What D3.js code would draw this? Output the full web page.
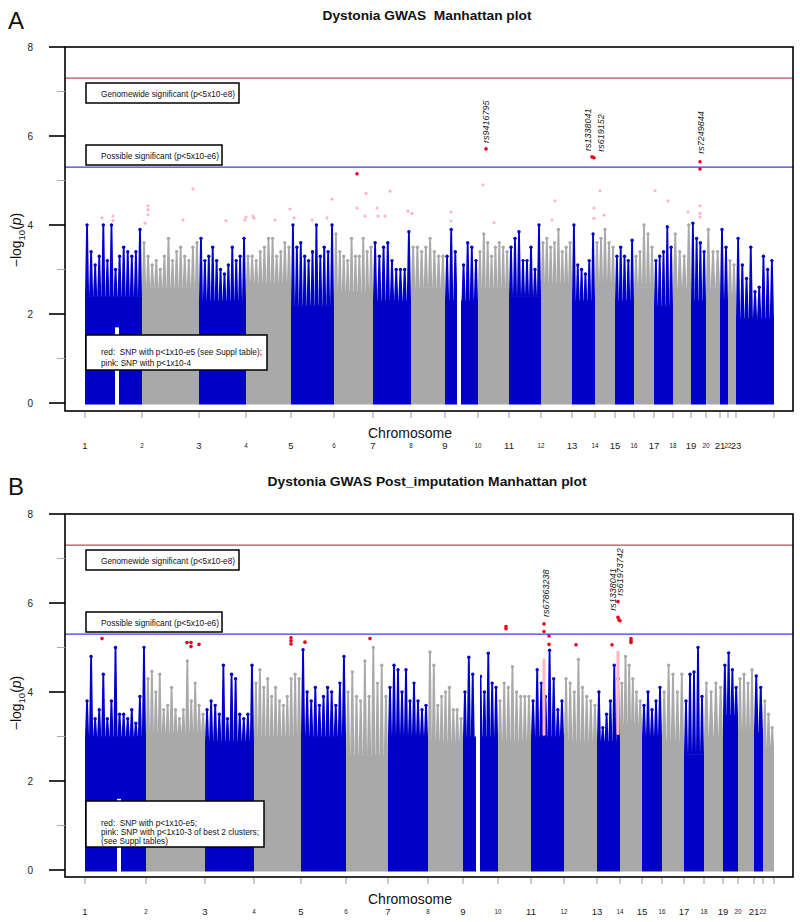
<!DOCTYPE html>
<html><head><meta charset="utf-8">
<script src="https://cdn.jsdelivr.net/npm/d3@7/dist/d3.min.js"></script>
<style>body{margin:0;background:#fff} svg{display:block;font-family:"Liberation Sans",Arial,sans-serif}</style>
</head><body><svg id="c" width="800" height="922"></svg>
<script>
// ---------------- DATA ----------------
const chromLabelsA = ["1","2","3","4","5","6","7","8","9","10","11","12","13","14","15","16","17","18","19","20","21","22","23"];
const chromLabelsB = ["1","2","3","4","5","6","7","8","9","10","11","12","13","14","15","16","17","18","19","20","21","22"];
// relative chromosome extents (number of SNPs, arbitrary units)
const chromSizeA = [57,57,47,45,43,39,38,34,33,31,32,31,23,20,19,20,19,18,15,14,8,8,38];
const chromSizeB = [61,59,49,47,45,42,40,35,35,33,33,33,23,22,20,22,20,19,15,16,9,11];
// -log10(p) level below which SNPs form a solid mass, per chromosome
const coreA = [2.4,2.6,2.3,2.7,2.2,2.5,2.3,2.6,2.3,2.6,2.4,2.7,2.3,2.7,2.3,2.6,2.2,2.6,2.3,2.6,2.3,2.4,1.9];
const coreB = [3.0,3.1,2.9,3.0,3.0,2.6,3.0,2.9,3.0,2.9,3.0,2.9,2.9,3.3,3.0,2.9,2.6,3.0,3.5,3.1,3.1,2.8];
// top -log10(p) of SNP stacks along each chromosome (evenly spaced windows)
const topsA = [
 [4.0,3.4,3.1,3.3,4.0,3.2,4.0,3.0,3.3,3.5,3.4,3.3,3.4,3.9],
 [3.6,3.3,3.1,3.2,3.0,3.3,3.7,3.2,3.4,3.5,3.3,3.2,3.5,3.6],
 [3.7,3.2,3.3,3.5,3.2,3.0,2.9,3.1,3.5,3.2,3.3,3.7],
 [3.3,3.3,3.2,3.4,3.5,3.7,3.7,3.3,3.4,3.6,3.5],
 [4.0,3.5,3.6,3.3,3.2,3.4,4.0,3.3,3.5,3.4,4.0],
 [3.8,3.4,3.3,3.2,3.7,3.3,3.3,3.7,3.4,3.5],
 [3.6,3.3,3.5,3.6,3.2,3.0,3.0,3.0,3.85],
 [3.5,3.5,3.4,3.5,3.7,3.4,3.3,3.3],
 [3.3,3.9,3.4,0,3.1,3.6,3.5,3.2],
 [3.4,3.8,3.6,3.3,3.5,3.6,3.5,3.4],
 [3.5,3.7,3.85,3.2,3.2,3.5,3.0,4.0],
 [3.6,3.7,3.5,3.6,3.9,3.4,3.5,3.6],
 [4.0,3.1,3.0,2.9,3.2,3.8],
 [3.6,3.7,3.9,3.6,3.5],
 [3.3,3.5,3.3,3.2,3.66],
 [3.3,3.4,4.0,3.8,3.5],
 [3.2,3.3,3.4,3.96,3.5],
 [3.8,3.4,3.3,4.0],
 [4.04,3.7,3.6,3.4],
 [3.9,3.4,3.4],
 [3.9,3.5],
 [3.2,3.1],
 [3.7,3.1,2.8,3.5,2.5,2.6,3.3,3.0,3.2]
];
const topsB = [
 [3.8,4.8,3.4,3.6,4.4,3.4,3.8,5.0,3.5,3.5,3.4,3.6,3.3,3.9,5.0],
 [4.3,4.46,4.0,4.4,3.6,3.7,4.1,3.6,3.4,3.6,4.7,3.8,4.2,3.7,3.5],
 [3.6,3.8,3.7,3.5,4.6,3.4,4.4,4.3,3.5,3.4,3.5,4.6],
 [4.2,4.5,4.1,4.3,3.9,4.1,3.8,3.7,3.9,4.3,4.4,4.3],
 [4.95,4.0,3.8,4.1,3.7,3.9,4.1,4.0,3.7,4.2,4.8],
 [4.0,4.45,3.9,3.8,4.7,3.9,5.0,4.2,4.6,3.9],
 [4.1,4.6,4.5,4.0,4.5,3.8,4.2,3.8,3.6,3.7],
 [4.9,4.6,3.7,3.9,4.0,4.1,3.6,3.6,3.4],
 [4.0,4.78,4.4,0,4.35,4.0,4.87,4.2,4.1],
 [3.8,4.2,4.1,4.57,4.0,3.9,3.9,3.9],
 [3.8,4.5,4.2,3.9,4.94,4.3,3.6,3.8],
 [4.3,4.2,4.0,4.73,4.1,3.9,3.8,3.7],
 [4.0,3.2,3.5,3.8,4.6,4.3],
 [4.2,4.8,4.6,4.3,4.0,3.8],
 [3.7,4.0,3.6,3.8,4.1],
 [4.0,4.6,4.4,4.0,4.4],
 [3.8,4.4,4.45,5.0,3.9],
 [4.2,4.0,4.2,4.1],
 [4.6,4.88,4.5,4.1],
 [4.3,4.4,4.2,4.5],
 [4.36,4.1],
 [3.8,3.5,3.2]
];
// centromere gaps: [chrom index, start offset, end offset, top -log10(p) of empty region]
const gapsA = [[0,30,34,1.7],[8,12,16,5]];
const gapsB = [[0,32,36,1.6],[8,13,17,5.2]];
// highlighted SNPs: [chrom index, offset within chromosome, -log10(p)]
const redA = [[9,8,5.71],[12,20,5.53],[12,22,5.51],[18,9,5.42],[18,9,5.26],[5,23,5.15]];
const pinkA = [[0,17,4.16],[0,28,4.2],[0,28,4.1],[1,6,4.43],[1,6,4.34],[1,6,4.23],[1,3,4.04],[1,41,4.11],[1,51,4.81],
 [2,27,4.1],[2,46,4.11],[3,0,4.18],[3,7,4.2],[3,8,4.15],[3,29,4.11],[3,44,4.36],[4,3,4.16],[4,21,4.11],[4,36,4.16],[4,41,4.58],
 [5,23,4.38],[5,31,4.2],[5,32,4.71],[6,4,4.38],[6,5,4.2],[6,12,4.2],[6,17,4.76],[6,35,4.31],[7,1,4.26],[8,6,4.29],[8,6,4.09],
 [9,5,4.9],[9,16,4.05],[11,11,4.11],[11,14,4.54],[12,22,4.38],[12,22,4.15],[13,5,4.77],[13,9,4.22],[16,1,4.77],[16,14,4.54],
 [17,15,4.29],[18,9,4.43],[18,9,4.26],[18,9,4.18]];
const redB = [[0,17,5.2],[0,46,5.6],[1,41,5.11],[1,45,5.39],[1,45,5.11],[1,45,5.02],[1,53,5.07],[3,37,5.22],[3,37,5.15],[3,37,5.08],
 [4,4,5.12],[5,24,5.2],[9,8,5.47],[9,8,5.42],[10,13,5.53],[10,13,5.36],[10,18,5.26],[10,18,5.07],[11,12,5.06],[12,15,5.06],
 [12,21,6.03],[12,21,5.68],[12,22,5.62],[12,23,5.6],[13,11,5.2],[13,11,5.15],[13,11,5.11]];
// pink clusters: [chrom index, offset, low, high]
const pinkB = [[10,13,3.05,4.72],[12,21,3.07,4.9]];
// annotated SNPs: [chrom index, offset, -log10(p), name]
const labelsA = [[9,8,5.71,"rs9416795"],[12,20,5.53,"rs1338041"],[12,22,5.51,"rs619152"],[18,9,5.42,"rs7249844"]];
const labelsB = [[10,13,5.53,"rs67863238"],[12,21,6.03,"rs1338041"],[12,21,6.03,"rs61973742"]];
const yTicks = [0,2,4,6,8];
const yMinor = [1,3,5,7];
const genomeWide = 7.3, suggestive = 5.3;

// ---------------- DRAW ----------------
const BLUE="#0000c8", GRAY="#a9a9a9", RED="#e8001c", PINK="#ffb6c1";
const svg=d3.select("#c");

function panel(cfg){
  const g=svg.append("g");
  const starts=[]; let acc=0; cfg.sizes.forEach(s=>{starts.push(acc); acc+=s;});
  const x=d3.scaleLinear().domain([0,acc]).range([85,774]);
  const y=d3.scaleLinear().domain([0,8]).range([cfg.y0,cfg.y8]);
  const col=i=> i%2===0?BLUE:GRAY;
  const px=(c,o)=>x(starts[c]+o);
  // solid mass
  cfg.sizes.forEach((s,i)=>{
    g.append("rect").attr("x",px(i,0)).attr("width",px(i,s)-px(i,0)).attr("y",y(cfg.core[i]))
     .attr("height",y(0)-y(cfg.core[i])+1.5).attr("fill",col(i));
  });
  // tapering SNP stacks above the solid mass
  cfg.tops.forEach((arr,i)=>{
    const w=cfg.sizes[i]/arr.length;
    arr.forEach((v,j)=>{
      if(v<=cfg.core[i]) return;
      const x0=px(i,j*w), x1=px(i,(j+1)*w), cx=(x0+x1)/2, yb=y(cfg.core[i])+0.5, yt=y(v);
      const p=d3.path();
      p.moveTo(x0,yb); p.lineTo(x1,yb);
      p.lineTo(cx+0.9,yt); p.lineTo(cx-0.9,yt); p.closePath();
      g.append("path").attr("d",p.toString()).attr("fill",col(i));
      g.append("circle").attr("cx",cx).attr("cy",yt).attr("r",1.7).attr("fill",col(i));
    });
  });
  cfg.gaps.forEach(d=>{
    g.append("rect").attr("x",px(d[0],d[1])).attr("width",px(d[0],d[2])-px(d[0],d[1]))
     .attr("y",y(d[3])).attr("height",y(0)-y(d[3])+2).attr("fill","#fff");
  });
  // pink
  (cfg.pinkPts||[]).forEach(d=>g.append("circle").attr("cx",px(d[0],d[1])).attr("cy",y(d[2])).attr("r",1.6).attr("fill",PINK));
  (cfg.pinkSeg||[]).forEach(d=>g.append("line").attr("x1",px(d[0],d[1])).attr("x2",px(d[0],d[1]))
     .attr("y1",y(d[2])).attr("y2",y(d[3])).attr("stroke",PINK).attr("stroke-width",3).attr("stroke-linecap","round"));
  cfg.red.forEach(d=>g.append("circle").attr("cx",px(d[0],d[1])).attr("cy",y(d[2])).attr("r",1.8).attr("fill",RED));
  // thresholds
  g.append("line").attr("x1",65).attr("x2",793).attr("y1",y(genomeWide)).attr("y2",y(genomeWide)).attr("stroke","#b05454").attr("stroke-width",1.2);
  g.append("line").attr("x1",65).attr("x2",793).attr("y1",y(suggestive)).attr("y2",y(suggestive)).attr("stroke","#3a3ae6").attr("stroke-width",1.2);
  // rs labels
  cfg.labels.forEach((d,k)=>{
    const off=cfg.labelOff[k];
    g.append("text").attr("transform",`translate(${px(d[0],d[1])+off[0]},${y(d[2])+off[1]}) rotate(-90)`)
     .attr("font-size",9).attr("font-style","italic").attr("fill","#222").text(d[3]);
  });
  // legend boxes
  const box=(bx,by,bw,bh,lines,fs,ty,tl)=>{
    g.append("rect").attr("x",bx).attr("y",by).attr("width",bw).attr("height",bh).attr("fill","#fff").attr("stroke","#000").attr("stroke-width",1.5);
    lines.forEach((t,k)=>g.append("text").attr("x",bx+15).attr("y",ty[k]).attr("font-size",fs).attr("fill","#111")
      .attr("textLength",tl[k]).attr("lengthAdjust","spacingAndGlyphs").attr("xml:space","preserve").text(t));
  };
  const Y=cfg.y8;
  box(86,Y+36,153,20,["Genomewide significant (p<5x10-e8)"],8.8,[Y+49.5],[134]);
  box(86,Y+98,136,20,["Possible significant (p<5x10-e6)"],8.8,[Y+111.5],[118]);
  box(86,cfg.legY,cfg.legW,cfg.legH,cfg.legLines,8.8,cfg.legTY,cfg.legTL);
  // frame
  g.append("rect").attr("x",65).attr("y",Y).attr("width",728).attr("height",cfg.boxB-Y).attr("fill","none").attr("stroke","#000").attr("stroke-width",1.6);
  // y axis
  yTicks.forEach(t=>{
    g.append("line").attr("x1",49).attr("x2",65).attr("y1",y(t)).attr("y2",y(t)).attr("stroke","#000").attr("stroke-width",1.6);
    g.append("text").attr("x",33).attr("y",y(t)+3.5).attr("text-anchor","end").attr("font-size",10).attr("fill","#222").text(t);
  });
  yMinor.forEach(t=>g.append("line").attr("x1",57).attr("x2",65).attr("y1",y(t)).attr("y2",y(t)).attr("stroke","#aaa").attr("stroke-width",1));
  g.append("text").attr("transform",`translate(21,${cfg.ylabY}) rotate(-90)`).attr("text-anchor","middle").attr("font-size",14).attr("fill","#111")
   .call(t=>{t.append("tspan").text("\u2212log");t.append("tspan").attr("font-size",9.5).attr("dy",4).text("10");
             t.append("tspan").attr("dy",-4).text("(");t.append("tspan").attr("font-style","italic").text("p");t.append("tspan").text(")");});
  // x ticks & chromosome labels
  starts.concat([acc]).forEach(s=>g.append("line").attr("x1",x(s)).attr("x2",x(s)).attr("y1",cfg.boxB+1).attr("y2",cfg.boxB+7).attr("stroke","#999").attr("stroke-width",1));
  cfg.chromLabels.forEach((l,i)=>{
    const big=i%2===0;
    g.append("text").attr("x",x(starts[i])).attr("y",cfg.boxB+(big?38:36.5)).attr("text-anchor","middle")
     .attr("font-size",big?9.5:6.3).attr("fill","#222").text(l);
  });
  g.append("text").attr("x",410).attr("y",cfg.boxB+26.5).attr("text-anchor","middle").attr("font-size",15).attr("fill","#111")
   .attr("textLength",84).attr("lengthAdjust","spacingAndGlyphs").text("Chromosome");
  // title + panel letter
  g.append("text").attr("x",427).attr("y",cfg.titleY).attr("text-anchor","middle").attr("font-size",13).attr("font-weight","bold").attr("fill","#111")
   .attr("xml:space","preserve").attr("textLength",cfg.titleW).attr("lengthAdjust","spacingAndGlyphs").text(cfg.title);
  g.append("text").attr("x",8).attr("y",cfg.titleY+9).attr("font-size",24).attr("fill","#111").text(cfg.letter);
}

panel({sizes:chromSizeA,core:coreA,tops:topsA,gaps:gapsA,red:redA,pinkPts:pinkA,labels:labelsA,
  labelOff:[[3,-6],[-1,-6],[10,-6],[4,-8]],
  y0:403,y8:47,boxB:411,chromLabels:chromLabelsA,legY:335,legW:181,legH:35,
  legLines:["red:  SNP with p<1x10-e5 (see Suppl table);","pink: SNP with p<1x10-4"],legTY:[355,366],legTL:[161,90],
  ylabY:240,titleY:20,titleW:209,title:"Dystonia GWAS  Manhattan plot",letter:"A"});
panel({sizes:chromSizeB,core:coreB,tops:topsB,gaps:gapsB,red:redB,pinkSeg:pinkB,labels:labelsB,
  labelOff:[[5,-7],[-2,9],[5,-6]],
  y0:870,y8:514,boxB:877,chromLabels:chromLabelsB,legY:801,legW:178,legH:46,
  legLines:["red:  SNP with p<1x10-e5;","pink: SNP with p<1x10-3 of best 2 clusters;","(see Suppl tables)"],legTY:[826,835,844],legTL:[96,158,67],
  ylabY:703,titleY:486,titleW:319,title:"Dystonia GWAS Post_imputation Manhattan plot",letter:"B"});
</script></body></html>
